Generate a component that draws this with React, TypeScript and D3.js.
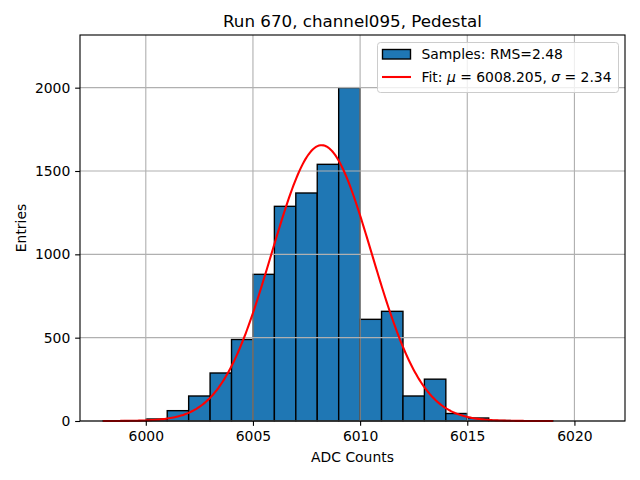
import { useEffect, useRef } from 'react';
import * as d3 from 'd3';

// histogram bins (left edges, width 1) and entries per bin
const binLefts = [5998, 5999, 6000, 6001, 6002, 6003, 6004, 6005, 6006, 6007, 6008, 6009, 6010, 6011, 6012, 6013, 6014, 6015, 6016, 6017, 6018];
const binCounts = [1, 2, 12, 62, 150, 288, 489, 880, 1288, 1368, 1540, 2000, 610, 658, 150, 251, 45, 18, 3, 1, 1];
const binWidth = 1;

// gaussian fit
const fitMu = 6008.205;
const fitSigma = 2.34;
const fitAmplitude = 1655;
const fitRange = [5998, 6019];

const xTicks = [6000, 6005, 6010, 6015, 6020];
const yTicks = [0, 500, 1000, 1500, 2000];

const titleText = 'Run 670, channel095, Pedestal';

const App = () => {
  const svgRef = useRef(null);

  useEffect(() => {
    document.body.style.margin = '0';
    const svg = d3.select(svgRef.current);
    svg.selectAll('*').remove();

    const width = 640;
    const height = 480;
    const margin = { top: 35, right: 15, bottom: 59, left: 80 };
    const font = 'DejaVu Sans';
    const pt = 100 / 72;

    const xScale = d3
      .scaleLinear()
      .domain([5996.93, 6022.36])
      .range([margin.left, width - margin.right]);
    const yScale = d3
      .scaleLinear()
      .domain([0, 2316])
      .range([height - margin.bottom, margin.top]);

    svg.attr('viewBox', `0 0 ${width} ${height}`).attr('width', width).attr('height', height);

    svg.append('rect').attr('width', width).attr('height', height).attr('fill', 'white');

    const plot = svg.append('g');

    // bars
    plot
      .selectAll('rect.bar')
      .data(binLefts)
      .enter()
      .append('rect')
      .attr('class', 'bar')
      .attr('x', (d) => xScale(d))
      .attr('width', (d) => xScale(d + binWidth) - xScale(d))
      .attr('y', (d, i) => yScale(binCounts[i]))
      .attr('height', (d, i) => yScale(0) - yScale(binCounts[i]))
      .attr('fill', '#1f77b4')
      .attr('stroke', 'black')
      .attr('stroke-width', 1 * pt);

    // grid (drawn over bars, like matplotlib)
    plot
      .selectAll('line.xgrid')
      .data(xTicks)
      .enter()
      .append('line')
      .attr('x1', (d) => xScale(d))
      .attr('x2', (d) => xScale(d))
      .attr('y1', margin.top)
      .attr('y2', height - margin.bottom)
      .attr('stroke', '#b0b0b0')
      .attr('stroke-width', 0.8 * pt);
    plot
      .selectAll('line.ygrid')
      .data(yTicks)
      .enter()
      .append('line')
      .attr('x1', margin.left)
      .attr('x2', width - margin.right)
      .attr('y1', (d) => yScale(d))
      .attr('y2', (d) => yScale(d))
      .attr('stroke', '#b0b0b0')
      .attr('stroke-width', 0.8 * pt);

    // fit curve
    const fitX = d3.range(0, 301).map((i) => fitRange[0] + ((fitRange[1] - fitRange[0]) * i) / 300);
    const gauss = (x) => fitAmplitude * Math.exp(-0.5 * ((x - fitMu) / fitSigma) ** 2);
    const line = d3
      .line()
      .x((d) => xScale(d))
      .y((d) => yScale(gauss(d)));
    plot
      .append('path')
      .attr('d', line(fitX))
      .attr('fill', 'none')
      .attr('stroke', 'red')
      .attr('stroke-width', 1.5 * pt);

    // frame
    svg
      .append('rect')
      .attr('x', margin.left)
      .attr('y', margin.top)
      .attr('width', width - margin.left - margin.right)
      .attr('height', height - margin.top - margin.bottom)
      .attr('fill', 'none')
      .attr('stroke', 'black')
      .attr('stroke-width', 0.8 * pt);

    // axes
    const xAxis = d3.axisBottom(xScale).tickValues(xTicks).tickSize(3.5 * pt).tickPadding(3.5 * pt).tickFormat(d3.format('d'));
    const yAxis = d3.axisLeft(yScale).tickValues(yTicks).tickSize(3.5 * pt).tickPadding(3.5 * pt).tickFormat(d3.format('d'));

    svg
      .append('g')
      .attr('transform', `translate(0,${height - margin.bottom})`)
      .call(xAxis)
      .call((g) => g.select('.domain').remove())
      .call((g) => g.selectAll('.tick line').attr('stroke-width', 0.8 * pt))
      .call((g) => g.selectAll('.tick text').style('font-family', font).style('font-size', '13.9px').attr('fill', 'black'));

    svg
      .append('g')
      .attr('transform', `translate(${margin.left},0)`)
      .call(yAxis)
      .call((g) => g.select('.domain').remove())
      .call((g) => g.selectAll('.tick line').attr('stroke-width', 0.8 * pt))
      .call((g) => g.selectAll('.tick text').style('font-family', font).style('font-size', '13.9px').attr('fill', 'black'));

    // labels
    svg
      .append('text')
      .attr('x', (margin.left + width - margin.right) / 2)
      .attr('y', 27)
      .attr('text-anchor', 'middle')
      .style('font-family', font)
      .style('font-size', '16.7px')
      .text(titleText);

    svg
      .append('text')
      .attr('x', (margin.left + width - margin.right) / 2)
      .attr('y', 462)
      .attr('text-anchor', 'middle')
      .style('font-family', font)
      .style('font-size', '13.9px')
      .text('ADC Counts');

    svg
      .append('text')
      .attr('transform', `translate(26,${(margin.top + height - margin.bottom) / 2}) rotate(-90)`)
      .attr('text-anchor', 'middle')
      .style('font-family', font)
      .style('font-size', '13.9px')
      .text('Entries');

    // legend
    const legend = svg.append('g');
    legend
      .append('rect')
      .attr('x', 377.5)
      .attr('y', 42.5)
      .attr('width', 241)
      .attr('height', 50)
      .attr('rx', 3)
      .attr('fill', 'white')
      .attr('fill-opacity', 0.8)
      .attr('stroke', '#cccccc')
      .attr('stroke-width', 1);
    legend
      .append('rect')
      .attr('x', 382.5)
      .attr('y', 49.5)
      .attr('width', 28)
      .attr('height', 9.5)
      .attr('fill', '#1f77b4')
      .attr('stroke', 'black')
      .attr('stroke-width', 1 * pt);
    legend
      .append('text')
      .attr('x', 421.5)
      .attr('y', 59)
      .style('font-family', font)
      .style('font-size', '13.9px')
      .text('Samples: RMS=2.48');
    legend
      .append('line')
      .attr('x1', 382)
      .attr('x2', 411)
      .attr('y1', 77)
      .attr('y2', 77)
      .attr('stroke', 'red')
      .attr('stroke-width', 1.5 * pt);
    const fitLabel = legend
      .append('text')
      .attr('x', 421.5)
      .attr('y', 82)
      .style('font-family', font)
      .style('font-size', '13.9px');
    fitLabel.append('tspan').text('Fit: ');
    fitLabel.append('tspan').style('font-style', 'italic').text('\u03bc');
    fitLabel.append('tspan').text(` = ${fitMu}, `);
    fitLabel.append('tspan').style('font-style', 'italic').text('\u03c3');
    fitLabel.append('tspan').text(` = ${fitSigma}`);
  }, []);

  return (
    <div>
      <svg ref={svgRef}></svg>
    </div>
  );
};

export default App;
